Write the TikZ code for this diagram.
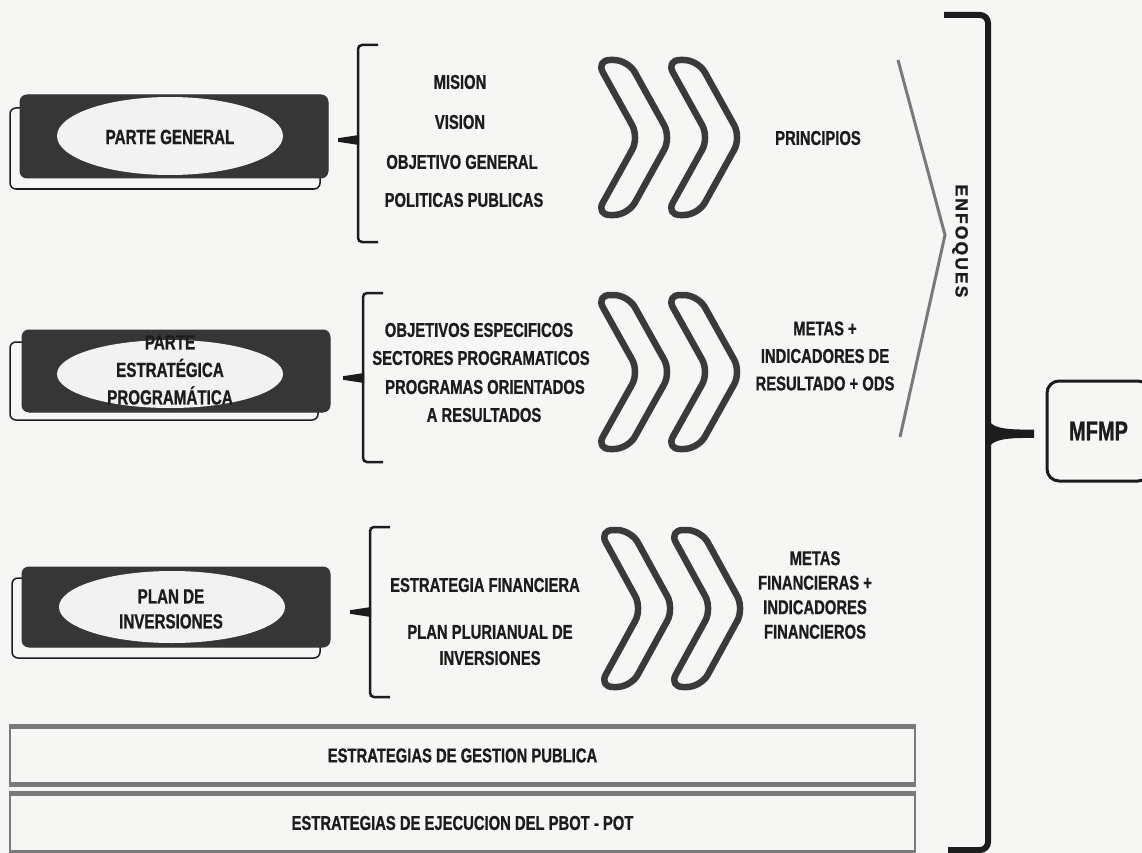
\documentclass[tikz,border=0pt]{standalone}
\usepackage{fontspec}
\setmainfont{Liberation Sans}
\newfontfamily\cf[FakeStretch=0.74,FakeBold=0.9]{Liberation Sans}
\newfontfamily\ef[LetterSpace=12,FakeBold=1.2]{Liberation Sans}
\usetikzlibrary{shapes.geometric}
\definecolor{ink}{HTML}{1C1C1C}
\definecolor{dark}{HTML}{363636}
\definecolor{paper}{HTML}{F6F6F4}
\definecolor{chevc}{HTML}{3A3A3A}
\definecolor{ggray}{HTML}{7A7A7A}
\definecolor{ellc}{HTML}{F2F2F2}
\tikzset{
  txt/.style={text=ink, font=\cf\bfseries\fontsize{20}{27.5}\selectfont, align=center, inner sep=0pt},
  lbl/.style={text=ink, font=\cf\bfseries\fontsize{20.5}{27.5}\selectfont, align=center, inner sep=0pt},
  shadowbox/.style={draw=ink, line width=1.5pt, rounded corners=6pt},
  dbox/.style={fill=dark, draw=dark, line width=1pt, rounded corners=7pt, inner sep=0pt},
  ellbox/.style={ellipse, fill=ellc, inner sep=0pt},
  brc/.style={draw=ink, line width=2.5pt, rounded corners=4pt},
  chev/.style={draw=chevc, line width=6.5pt, rounded corners=14pt, line join=round, line cap=round},
  bbox/.style={draw=ggray, line width=2.5pt, minimum width=905pt, minimum height=55pt, text=ink,
     font=\cf\bfseries\fontsize{20}{22}\selectfont, inner sep=0pt}
}
\newcommand\leftbr[4]{%
  \draw[brc] (#1+20,#2) -- (#1,#2) -- (#1,#3) -- (#1+20,#3);
  \fill[ink] (#1+1,#4-5) -- (#1-20,#4-1.8) -- (#1-20,#4+1.8) -- (#1+1,#4+5) -- cycle;}
\newcommand\chevr[3]{%
  \draw[chev] (#1+16,#2) -- (#1+32,#2) -- (#1+75,{(#2+#3)/2}) -- (#1+32,#3) -- (#1,#3)
     -- (#1+43,{(#2+#3)/2}) -- (#1,#2) -- (#1+16,#2);}
\begin{document}
\begin{tikzpicture}[x=1pt,y=-1pt]
\useasboundingbox (0,0) rectangle (1142,853);
\clip (0,0) rectangle (1142,853);
\fill[paper] (0,0) rectangle (1142,853);

% ---- left dark boxes
\draw[shadowbox] (10,108) rectangle (320,189);
\node[dbox, minimum width=308pt, minimum height=83pt] (b1) at (174,136.5) {};
\node[ellbox, minimum width=226pt, minimum height=78pt] (e1) at (170,136) {};
\node[lbl] (t1) at (170,137) {PARTE GENERAL};

\draw[shadowbox] (10,342) rectangle (318,420);
\node[dbox, minimum width=308pt, minimum height=82pt] (b2) at (176,371) {};
\node[ellbox, minimum width=226pt, minimum height=68pt] (e2) at (170,374) {};
\node[lbl] (t2) at (170,370) {PARTE\\ESTRATÉGICA\\PROGRAMÁTICA};

\draw[shadowbox] (12,578) rectangle (320,658);
\node[dbox, minimum width=308pt, minimum height=80pt] (b3) at (176,607) {};
\node[ellbox, minimum width=226pt, minimum height=72pt] (e3) at (172,607) {};
\node[lbl, font=\cf\bfseries\fontsize{20.5}{25}\selectfont] (t3) at (171,609) {PLAN DE\\INVERSIONES};

% ---- braces
\leftbr{358}{45}{242}{140}
\leftbr{363}{293}{462}{378}
\leftbr{370}{527}{697}{612}

% ---- lists
\node[txt] (l11) at (460,82) {MISION};
\node[txt] (l12) at (460,122) {VISION};
\node[txt] (l13) at (462,162) {OBJETIVO GENERAL};
\node[txt] (l14) at (464,200) {POLITICAS PUBLICAS};

\node[txt] (l21) at (479,330) {OBJETIVOS ESPECIFICOS};
\node[txt] (l22) at (481,358) {SECTORES PROGRAMATICOS};
\node[txt] (l23) at (485,387) {PROGRAMAS ORIENTADOS};
\node[txt] (l24) at (484,415) {A RESULTADOS};

\node[txt] (l31) at (485,585) {ESTRATEGIA FINANCIERA};
\node[txt] (l32) at (490,632) {PLAN PLURIANUAL DE};
\node[txt] (l33) at (490,658) {INVERSIONES};

% ---- chevrons
\chevr{596}{60}{215}
\chevr{666}{60}{215}
\chevr{596}{295}{449}
\chevr{666}{295}{449}
\chevr{599}{530}{687}
\chevr{669}{530}{687}

% ---- right texts
\node[txt] (r1) at (818,138) {PRINCIPIOS};
\node[txt] (r2) at (825,356) {METAS +\\INDICADORES DE\\RESULTADO + ODS};
\node[txt, font=\cf\bfseries\fontsize{20}{24.5}\selectfont] (r3) at (815,595) {METAS\\FINANCIERAS +\\INDICADORES\\FINANCIEROS};

% ---- enfoques
\draw[ggray, line width=3pt, line join=miter] (898,60) -- (945,235) -- (900,437);
\node[rotate=-90, text=ink, inner sep=0pt, font=\ef\bfseries\fontsize{17.5}{17.5}\selectfont] (enf) at (960,241) {ENFOQUES};

% ---- big brace
\draw[ink, line width=6pt, rounded corners=8pt] (944,15) -- (988,15) -- (988,850) -- (948,850);
\fill[ink] (985,412) .. controls (988,428) and (1000,430) .. (1034,429.5) -- (1034,438)
   .. controls (1000,437.5) and (988,440) .. (985,456) -- cycle;

% ---- MFMP
\node[draw=ink, line width=3pt, rounded corners=12pt, minimum width=103pt, minimum height=100pt,
   text=ink, font=\cf\bfseries\fontsize{27}{27}\selectfont] (mfmp) at (1098.5,431) {MFMP};

% ---- bottom boxes
\node[bbox] (g1) at (462.5,755.5) {ESTRATEGIAS DE GESTION PUBLICA};
\draw[ggray, line width=5pt] (g1.north west) -- (g1.north east);
\draw[ggray, line width=5pt] (g1.south west) -- (g1.south east);
\node[bbox, minimum height=56pt] (g2) at (462.5,823) {ESTRATEGIAS DE EJECUCION DEL PBOT - POT};
\draw[ggray, line width=5pt] (g2.north west) -- (g2.north east);
\draw[ggray, line width=5pt] (g2.south west) -- (g2.south east);
\end{tikzpicture}
\end{document}
